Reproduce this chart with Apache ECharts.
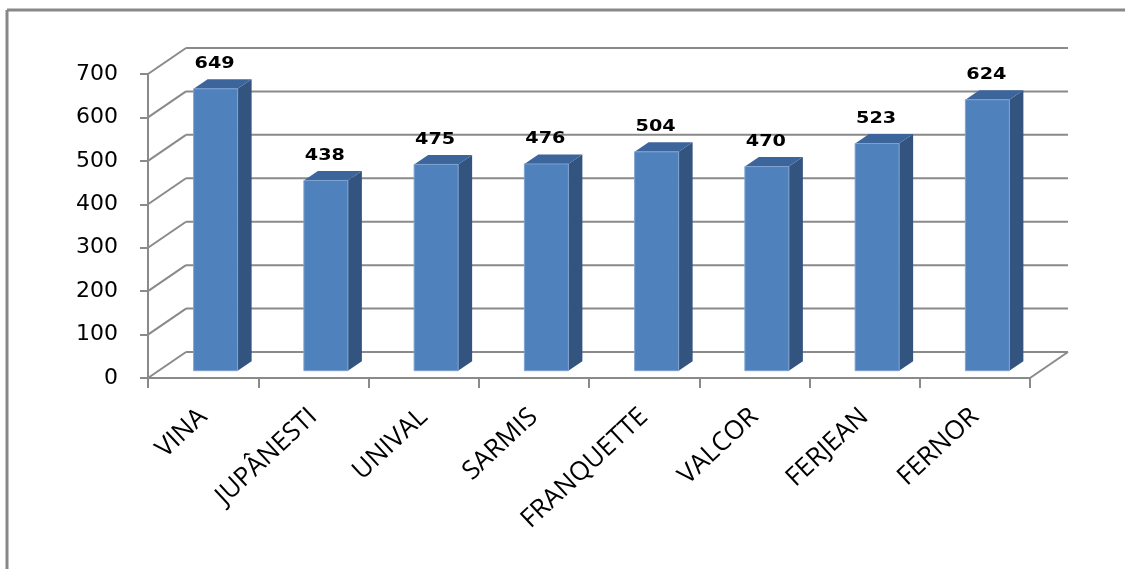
<!DOCTYPE html>
<html>
<head>
<meta charset="utf-8">
<script src="https://cdn.jsdelivr.net/npm/echarts@6/dist/echarts.min.js"></script>
<style>
  html, body { margin: 0; padding: 0; background: #ffffff; overflow: hidden; }
  #chart { width: 1125px; height: 569px; }
</style>
</head>
<body>
<div id="chart"></div>
<script>
// Varieties and their values
const categories = ['VINA', 'JUPÂNESTI', 'UNIVAL', 'SARMIS', 'FRANQUETTE', 'VALCOR', 'FERJEAN', 'FERNOR'];
const values = [649, 438, 475, 476, 504, 470, 523, 624];
// Value-axis ticks (also used for the back-wall grid lines)
const yTicks = [0, 100, 200, 300, 400, 500, 600, 700];

// Pseudo-3D geometry
const WALL_DX = 38, WALL_DY = -26;      // depth of the floor / side wall
const BAR_SHIFT_Y = -7.3;               // bar front face sits a little behind the front plane
const BAR_OFFSET_X = -9.5, BAR_W = 44;  // bar front face relative to category centre
const BAR_DX = 14, BAR_DY = -9.5;       // bar depth

const GRID_COLOR = '#8a8a8a';

const chart = echarts.init(document.getElementById('chart'), null, { renderer: 'canvas' });

function renderWall(params, api) {
  const cs = params.coordSys;
  const v = api.value(1);
  const p = api.coord([0, v]);
  const x0 = cs.x, x1 = cs.x + cs.width, y = p[1];
  const style = { stroke: GRID_COLOR, lineWidth: 2 };
  const children = [
    { type: 'line', shape: { x1: x0, y1: y, x2: x0 + WALL_DX, y2: y + WALL_DY }, style },
    { type: 'line', shape: { x1: x0 + WALL_DX, y1: y + WALL_DY, x2: x1 + WALL_DX, y2: y + WALL_DY }, style }
  ];
  if (v === 0) {
    children.push({ type: 'line', shape: { x1: x1, y1: y, x2: x1 + WALL_DX, y2: y + WALL_DY }, style });
  }
  return { type: 'group', children };
}

function renderBar(params, api) {
  const i = api.value(0);
  const v = api.value(1);
  const p = api.coord([i, v]);
  const b = api.coord([i, 0]);
  const left = p[0] + BAR_OFFSET_X, right = left + BAR_W;
  const top = p[1] + BAR_SHIFT_Y, bottom = b[1] + BAR_SHIFT_Y;
  return {
    type: 'group',
    children: [
      { type: 'polygon',
        shape: { points: [[right, top], [right + BAR_DX, top + BAR_DY], [right + BAR_DX, bottom + BAR_DY], [right, bottom]] },
        style: { fill: '#32547f' } },
      { type: 'polygon',
        shape: { points: [[left, top], [left + BAR_DX, top + BAR_DY], [right + BAR_DX, top + BAR_DY], [right, top]] },
        style: { fill: '#3c659c' } },
      { type: 'rect',
        shape: { x: left, y: top, width: BAR_W, height: bottom - top },
        style: { fill: '#4f81bd', stroke: '#7fa2d2', lineWidth: 1 } },
      { type: 'text',
        x: left + BAR_W / 2 - 1, y: top - 25,
        scaleX: 1.2,
        style: { text: String(v), fill: '#000000', font: 'bold 16px "DejaVu Sans"', align: 'center', verticalAlign: 'middle' } }
    ]
  };
}

chart.setOption({
  animation: false,
  backgroundColor: '#ffffff',
  graphic: [
    // outer frame (top and left edges; the rest runs off the page)
    { type: 'line', shape: { x1: 7, y1: 10, x2: 1125, y2: 10 },
      style: { stroke: '#888888', lineWidth: 3 }, z: 0 },
    { type: 'line', shape: { x1: 7, y1: 10, x2: 7, y2: 569 },
      style: { stroke: '#888888', lineWidth: 3 }, z: 0 }
  ],
  grid: { left: 148, top: 74, width: 882, height: 304 },
  xAxis: {
    type: 'category',
    data: categories,
    axisLine: { show: true, lineStyle: { color: GRID_COLOR, width: 2 } },
    axisTick: { show: true, length: 10, lineStyle: { color: GRID_COLOR, width: 2 } },
    axisLabel: {
      rotate: 43, margin: 35, interval: 0,
      color: '#000000', fontSize: 26, fontFamily: 'Open Sans'
    },
    splitLine: { show: false }
  },
  yAxis: {
    type: 'value',
    min: 0, max: 700, interval: 100,
    axisLine: { show: true, lineStyle: { color: GRID_COLOR, width: 2 } },
    axisTick: { show: true, length: 8, lineStyle: { color: GRID_COLOR, width: 2 } },
    axisLabel: { margin: 30, color: '#000000', fontSize: 22, fontFamily: 'DejaVu Sans', padding: [4, 0, 0, 0] },
    splitLine: { show: false }
  },
  series: [
    { type: 'custom', name: 'wall', renderItem: renderWall, clip: false, z: 1,
      data: yTicks.map(v => [0, v]), silent: true },
    { type: 'custom', name: 'bars', renderItem: renderBar, clip: false, z: 2,
      data: values.map((v, i) => [i, v]) }
  ]
});
</script>
</body>
</html>
